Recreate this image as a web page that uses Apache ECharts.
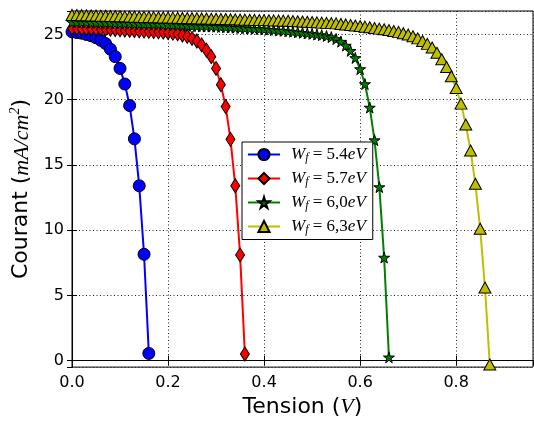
<!DOCTYPE html>
<html>
<head>
<meta charset="utf-8">
<script src="https://cdn.jsdelivr.net/npm/echarts@6/dist/echarts.min.js"></script>
<style>html,body{margin:0;padding:0;background:#fff;}#c{width:534px;height:423px;}</style>
</head>
<body>
<div id="c"></div>
<script>
// Voltage steps (V)
const tension = [
  0.00,0.01,0.02,0.03,0.04,0.05,0.06,0.07,0.08,0.09,
  0.10,0.11,0.12,0.13,0.14,0.15,0.16,0.17,0.18,0.19,
  0.20,0.21,0.22,0.23,0.24,0.25,0.26,0.27,0.28,0.29,
  0.30,0.31,0.32,0.33,0.34,0.35,0.36,0.37,0.38,0.39,
  0.40,0.41,0.42,0.43,0.44,0.45,0.46,0.47,0.48,0.49,
  0.50,0.51,0.52,0.53,0.54,0.55,0.56,0.57,0.58,0.59,
  0.60,0.61,0.62,0.63,0.64,0.65,0.66,0.67,0.68,0.69,
  0.70,0.71,0.72,0.73,0.74,0.75,0.76,0.77,0.78,0.79,
  0.80,0.81,0.82,0.83,0.84,0.85,0.86,0.87
];
// Current density (mA/cm^2)
const courant54 = [
  25.20,25.15,25.10,25.00,24.90,24.75,24.55,24.30,23.87,23.30,
  22.40,21.20,19.55,17.00,13.40,8.15,0.55
];
const courant57 = [
  25.50,25.49,25.48,25.47,25.46,25.45,25.44,25.42,25.40,25.38,
  25.36,25.34,25.32,25.30,25.28,25.26,25.24,25.22,25.20,25.18,
  25.15,25.10,25.05,24.95,24.85,24.70,24.50,24.20,23.80,23.30,
  22.40,21.15,19.47,16.96,13.40,8.10,0.50
];
const courant60 = [
  25.95,25.94,25.93,25.92,25.91,25.90,25.89,25.88,25.87,25.86,
  25.85,25.84,25.83,25.82,25.81,25.80,25.79,25.78,25.77,25.76,
  25.75,25.73,25.71,25.69,25.67,25.65,25.64,25.63,25.62,25.61,
  25.60,25.58,25.56,25.54,25.52,25.50,25.48,25.46,25.44,25.42,
  25.40,25.37,25.34,25.31,25.28,25.25,25.21,25.17,25.13,25.09,
  25.05,25.00,24.95,24.88,24.80,24.65,24.45,24.15,23.75,23.20,
  22.35,21.20,19.40,16.90,13.30,7.90,0.25
];
const courant63 = [
  26.50,26.49,26.48,26.47,26.46,26.45,26.44,26.43,26.42,26.41,
  26.40,26.39,26.38,26.37,26.36,26.35,26.34,26.33,26.32,26.31,
  26.30,26.29,26.28,26.27,26.26,26.25,26.24,26.23,26.22,26.21,
  26.20,26.19,26.18,26.17,26.16,26.15,26.14,26.13,26.12,26.11,
  26.10,26.09,26.08,26.07,26.06,26.05,26.03,26.01,25.99,25.97,
  25.95,25.93,25.91,25.89,25.87,25.85,25.81,25.77,25.73,25.69,
  25.65,25.60,25.55,25.50,25.45,25.40,25.34,25.27,25.20,25.10,
  25.00,24.86,24.70,24.50,24.28,24.00,23.60,23.10,22.50,21.80,
  20.90,19.70,18.10,16.10,13.55,10.10,5.60,-0.30
];
const workFunctions = ['5.4', '5.7', '6,0', '6,3'];
const seriesNames = workFunctions.map(w => 'Wf=' + w + 'eV');
const xTickLabels = ['0.0', '0.2', '0.4', '0.6', '0.8'];
const yTickLabels = ['0', '5', '10', '15', '20', '25'];

const starPath = 'path://M50,0 L61,35 L98,35 L68,57 L79,91 L50,70 L21,91 L32,57 L2,35 L39,35 Z';
const styles = [
  { color: '#0000ff', symbol: 'circle', size: 12 },
  { color: '#ff0000', symbol: 'diamond', size: [9, 14] },
  { color: '#008000', symbol: starPath, size: 11 },
  { color: '#bfbf00', symbol: 'triangle', size: [12, 11] }
];
const values = [courant54, courant57, courant60, courant63];

const series = values.map((ys, k) => ({
  name: seriesNames[k],
  type: 'line',
  data: ys.map((y, i) => [tension[i], y]),
  symbol: styles[k].symbol,
  symbolSize: styles[k].size,
  showAllSymbol: true,
  lineStyle: { color: styles[k].color, width: 2 },
  itemStyle: { color: styles[k].color, borderColor: '#000', borderWidth: 1 },
  emphasis: { disabled: true },
  animation: false,
  clip: true
}));

const chart = echarts.init(document.getElementById('c'), null, { renderer: 'canvas' });
const tickCommon = { inside: true, length: 5, lineStyle: { color: '#000', width: 1 } };
const splitCommon = { show: true, lineStyle: { color: '#222', width: 1, type: [1, 2.5] } };
chart.setOption({
  backgroundColor: '#fff',
  animation: false,
  grid: { left: 72, right: 1, top: 11, bottom: 50, show: true, borderColor: '#000', borderWidth: 1, backgroundColor: 'transparent' },
  xAxis: [{
    type: 'value', min: 0, max: 0.96, minInterval: 0.2, maxInterval: 0.2,
    axisLine: { show: true, lineStyle: { color: '#000', width: 1 } },
    axisTick: tickCommon,
    splitLine: splitCommon,
    axisLabel: {
      color: '#000', fontSize: 16, fontFamily: 'DejaVu Sans', margin: 8,
      showMaxLabel: false,
      formatter: v => { const s = v.toFixed(1); return xTickLabels.indexOf(s) >= 0 ? s : ''; }
    },
    name: '{a|Tension (}{m|V}{a|)}',
    nameLocation: 'middle', nameGap: 27,
    nameTextStyle: {
      color: '#000', fontSize: 22, fontFamily: 'DejaVu Sans',
      rich: {
        a: { fontSize: 22, fontFamily: 'DejaVu Sans', color: '#000' },
        m: { fontSize: 22, fontFamily: 'Liberation Serif', fontStyle: 'italic', color: '#000' }
      }
    }
  }, {
    type: 'value', position: 'top', min: 0, max: 0.96, minInterval: 0.2, maxInterval: 0.2,
    axisLine: { show: true, lineStyle: { color: '#000', width: 1 } },
    axisTick: tickCommon, axisLabel: { show: false }, splitLine: { show: false }
  }],
  yAxis: [{
    type: 'value', min: -0.5, max: 26.8, minInterval: 5, maxInterval: 5,
    axisLine: { show: true, lineStyle: { color: '#000', width: 1 } },
    axisTick: tickCommon,
    splitLine: splitCommon,
    axisLabel: {
      color: '#000', fontSize: 16, fontFamily: 'DejaVu Sans', margin: 8,
      showMinLabel: false, showMaxLabel: false,
      formatter: v => { const s = String(Math.round(v * 100) / 100); return yTickLabels.indexOf(s) >= 0 ? s : ''; }
    },
    name: '{a|Courant (}{m|mA/cm}{s|2}{a|)}',
    nameLocation: 'middle', nameGap: 32, nameRotate: 90,
    nameTextStyle: {
      color: '#000', fontSize: 22, fontFamily: 'DejaVu Sans',
      rich: {
        a: { fontSize: 22, fontFamily: 'DejaVu Sans', color: '#000', lineHeight: 26 },
        m: { fontSize: 22, fontFamily: 'Liberation Serif', fontStyle: 'italic', color: '#000', lineHeight: 26 },
        s: { fontSize: 14, fontFamily: 'Liberation Serif', fontStyle: 'italic', color: '#000', verticalAlign: 'top', lineHeight: 26 }
      }
    }
  }, {
    type: 'value', position: 'right', min: -0.5, max: 26.8, minInterval: 5, maxInterval: 5,
    axisLine: { show: true, lineStyle: { color: '#000', width: 1 } },
    axisTick: tickCommon, axisLabel: { show: false }, splitLine: { show: false }
  }],
  legend: {
    orient: 'vertical', left: 242, top: 142,
    data: seriesNames,
    padding: [4, 7, 4, 5],
    itemGap: 6.5,
    itemWidth: 32, itemHeight: 14,
    backgroundColor: '#fff',
    borderColor: '#000', borderWidth: 1, borderRadius: 0,
    selectedMode: false,
    formatter: name => {
      const w = name.slice(3, name.length - 2);
      return '{w|W}{s|f}{n| = ' + w + '}{i|eV}';
    },
    textStyle: {
      color: '#000', fontSize: 17,
      rich: {
        w: { fontSize: 17, fontFamily: 'Liberation Serif', fontStyle: 'italic', color: '#000', lineHeight: 18, padding: [0, 0, 0, 6] },
        i: { fontSize: 17, fontFamily: 'Liberation Serif', fontStyle: 'italic', color: '#000', lineHeight: 18 },
        s: { fontSize: 12, fontFamily: 'Liberation Serif', fontStyle: 'italic', color: '#000', verticalAlign: 'bottom', lineHeight: 18 },
        n: { fontSize: 17, fontFamily: 'Liberation Serif', color: '#000', lineHeight: 18 }
      }
    }
  },
  series: series
});
</script>
</body>
</html>
